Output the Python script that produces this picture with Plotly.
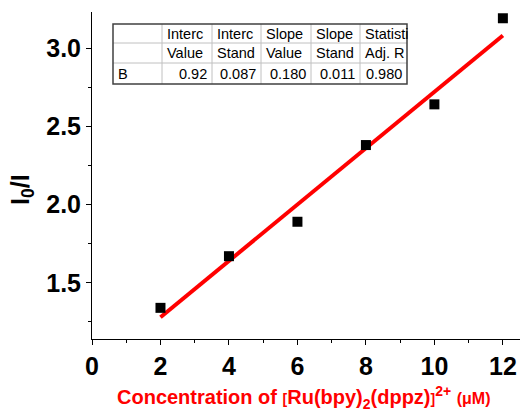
import plotly.graph_objects as go

# Data
conc = [2, 4, 6, 8, 10, 12]
ratio = [1.34, 1.67, 1.89, 2.38, 2.64, 3.19]
fit_x = [2, 12]
fit_y = [1.28, 3.08]

x_ticks = [0, 2, 4, 6, 8, 10, 12]
y_ticks = [1.5, 2.0, 2.5, 3.0]

table_rows = [
    ["", "Interc", "Interc", "Slope", "Slope", "Statisti"],
    ["", "Value", "Stand", "Value", "Stand", "Adj. R"],
    ["B", "0.92", "0.087", "0.180", "0.011", "0.980"],
]

W, H = 520, 414
L, T, B = 92, 12, 75
PW, PH = W - L, H - T - B


def px(x):
    return (x - L) / PW


def py(y):
    return (H - B - y) / PH


fig = go.Figure()
fig.add_trace(go.Scatter(x=fit_x, y=fit_y, mode="lines",
                         line=dict(color="#ff0000", width=4), showlegend=False))
fig.add_trace(go.Scatter(x=conc, y=ratio, mode="markers",
                         marker=dict(symbol="square", size=10, color="black"),
                         showlegend=False))

font = "Liberation Sans, Arial, sans-serif"

fig.update_layout(
    width=W, height=H,
    margin=dict(l=L, r=0, t=T, b=B),
    plot_bgcolor="white", paper_bgcolor="white",
    font=dict(family=font, color="black"),
    xaxis=dict(range=[0, 12.5], tickvals=x_ticks, ticktext=[str(v) for v in x_ticks],
               showgrid=False, zeroline=False, showline=True, linecolor="black", linewidth=1,
               ticks="outside", ticklen=5, tickwidth=1, tickcolor="black",
               minor=dict(dtick=1, ticks="outside", ticklen=3, tickcolor="black"),
               tickfont=dict(family=font, size=25, color="black", weight="bold")),
    yaxis=dict(range=[1.141, 3.23], tickvals=y_ticks, ticktext=["1.5", "2.0", "2.5", "3.0"],
               showgrid=False, zeroline=False, showline=True, linecolor="black", linewidth=1,
               ticks="outside", ticklen=5, tickwidth=1, tickcolor="black",
               minor=dict(tick0=1.25, dtick=0.25, ticks="outside", ticklen=3, tickcolor="black"),
               tickfont=dict(family=font, size=25, color="black", weight="bold")),
)

# Axis titles
fig.add_annotation(xref="paper", yref="paper", x=px(22), y=py(190), showarrow=False,
                   text="<b>I<sub>0</sub>/I</b>", textangle=-90,
                   font=dict(family=font, size=25, color="black"),
                   xanchor="center", yanchor="middle")
fig.add_annotation(xref="paper", yref="paper", x=px(304), y=py(397), showarrow=False,
                   text=("<b>Concentration of <span style='font-size:14px'>[</span>Ru(bpy)<sub>2</sub>"
                         "(dppz)<span style='font-size:14px'>]</span><sup>2+</sup> "
                         "<span style='font-size:16px'>(μM)</span></b>"),
                   font=dict(family=font, size=20, color="#ff0000"),
                   xanchor="center", yanchor="middle")

# Table
cols = [113, 162, 212, 261, 311, 360, 407]
rows = [24, 43, 63, 84]
light = "#c0c0c0"
dark = "#404040"
for cx in cols[1:-1]:
    fig.add_shape(type="line", xref="paper", yref="paper", x0=px(cx), x1=px(cx),
                  y0=py(rows[0]), y1=py(rows[-1]), line=dict(color=light, width=1))
for ry in rows[1:-1]:
    fig.add_shape(type="line", xref="paper", yref="paper", x0=px(cols[0]), x1=px(cols[-1]),
                  y0=py(ry), y1=py(ry), line=dict(color=light, width=1))
fig.add_shape(type="rect", xref="paper", yref="paper", x0=px(cols[0]), x1=px(cols[-1]),
              y0=py(rows[0]), y1=py(rows[-1]), line=dict(color=dark, width=1.5))

for ri, row in enumerate(table_rows):
    yc = (rows[ri] + rows[ri + 1]) / 2
    for ci, val in enumerate(row):
        if not val:
            continue
        if ri == 2 and ci > 0:
            x = px(cols[ci + 1] - 3)
            anchor = "right"
        else:
            x = px(cols[ci] + 3)
            anchor = "left"
        fig.add_annotation(xref="paper", yref="paper", x=x, y=py(yc), text=val,
                           showarrow=False, xanchor=anchor, yanchor="middle",
                           font=dict(family=font, size=14.5, color="black"))

fig.write_html("out.html")
